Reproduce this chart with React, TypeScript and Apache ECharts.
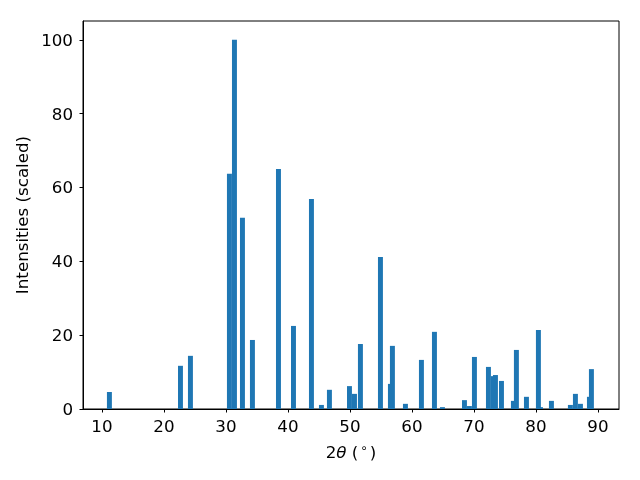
import React, { useEffect, useRef } from "react";
import * as echarts from "echarts";

const positions = [11.2, 22.66, 24.27, 30.56, 31.37, 32.66, 34.27, 38.47, 40.89, 43.79, 45.4, 46.69, 49.92, 50.73, 51.69, 54.92, 56.53, 56.85, 58.95, 61.53, 63.63, 64.92, 68.47, 69.27, 70.08, 72.34, 73.15, 73.47, 74.44, 76.37, 76.85, 78.47, 80.4, 80.73, 82.5, 85.56, 86.37, 87.18, 88.63, 88.95];
const intensities = [4.6, 11.7, 14.4, 63.7, 100, 51.8, 18.7, 65.0, 22.5, 56.9, 1.1, 5.2, 6.2, 4.1, 17.6, 41.2, 6.8, 17.1, 1.4, 13.3, 20.9, 0.5, 2.4, 0.8, 14.1, 11.4, 8.9, 9.2, 7.6, 2.2, 16.0, 3.3, 21.4, 0.5, 2.2, 1.1, 4.1, 1.4, 3.3, 10.8];
const xTicks = [10, 20, 30, 40, 50, 60, 70, 80, 90];
const yTicks = [0, 20, 40, 60, 80, 100];
const barWidthUnits = 0.8;

export default function App() {
  const ref = useRef<HTMLDivElement>(null);
  useEffect(() => {
    if (!ref.current) return;
    const chart = echarts.init(ref.current, null, { renderer: "svg" });
    const font = "DejaVu Sans";
    const fs = 16.7;
    const data = positions.map((p, i) => [p, intensities[i]]);
    chart.setOption({
      animation: false,
      textStyle: { fontFamily: font },
      grid: {
        left: 83,
        right: 21,
        top: 21,
        bottom: 71,
        containLabel: false,
        outerBoundsMode: "none",
        show: true,
        borderColor: "#000",
        borderWidth: 1,
        backgroundColor: "#fff",
      },
      xAxis: {
        type: "value",
        min: 6.94,
        max: 93.4,
        splitLine: { show: false },
        axisLine: { show: true, onZero: false, lineStyle: { color: "#000", width: 1 } },
        axisTick: { show: true, length: 3.5, customValues: xTicks, lineStyle: { color: "#000", width: 1 } },
        axisLabel: { customValues: xTicks, color: "#000", fontSize: fs, fontFamily: font, margin: 8 },
        name: "2{i|θ} ({s|∘})",
        nameLocation: "middle",
        nameGap: 33,
        nameTextStyle: {
          color: "#000",
          fontSize: fs,
          fontFamily: font,
          rich: {
            i: { fontStyle: "italic", fontSize: fs, fontFamily: font, color: "#000" },
            s: { fontSize: 12, fontFamily: font, color: "#000", verticalAlign: "top", padding: [0, 2, 7, 2] },
          },
        },
      },
      yAxis: {
        type: "value",
        min: 0,
        max: 105.1,
        splitLine: { show: false },
        axisLine: { show: true, lineStyle: { color: "#000", width: 1 } },
        axisTick: { show: true, length: 3.5, customValues: yTicks, lineStyle: { color: "#000", width: 1 } },
        axisLabel: { customValues: yTicks, color: "#000", fontSize: fs, fontFamily: font, margin: 10 },
        name: "Intensities (scaled)",
        nameLocation: "middle",
        nameGap: 48,
        nameRotate: 90,
        nameTextStyle: { color: "#000", fontSize: fs, fontFamily: font },
      },
      series: [
        {
          type: "custom",
          data,
          renderItem: (params: any, api: any) => {
            const x = api.value(0);
            const y = api.value(1);
            const p1 = api.coord([x - barWidthUnits / 2, y]);
            const p2 = api.coord([x + barWidthUnits / 2, 0]);
            return {
              type: "rect",
              shape: { x: p1[0], y: p1[1], width: p2[0] - p1[0], height: p2[1] - p1[1] },
              style: { fill: "#1f77b4" },
            };
          },
        },
      ],
    });
    return () => chart.dispose();
  }, []);
  return <div ref={ref} style={{ position: "fixed", left: 0, top: 0, width: 640, height: 480 }} />;
}
